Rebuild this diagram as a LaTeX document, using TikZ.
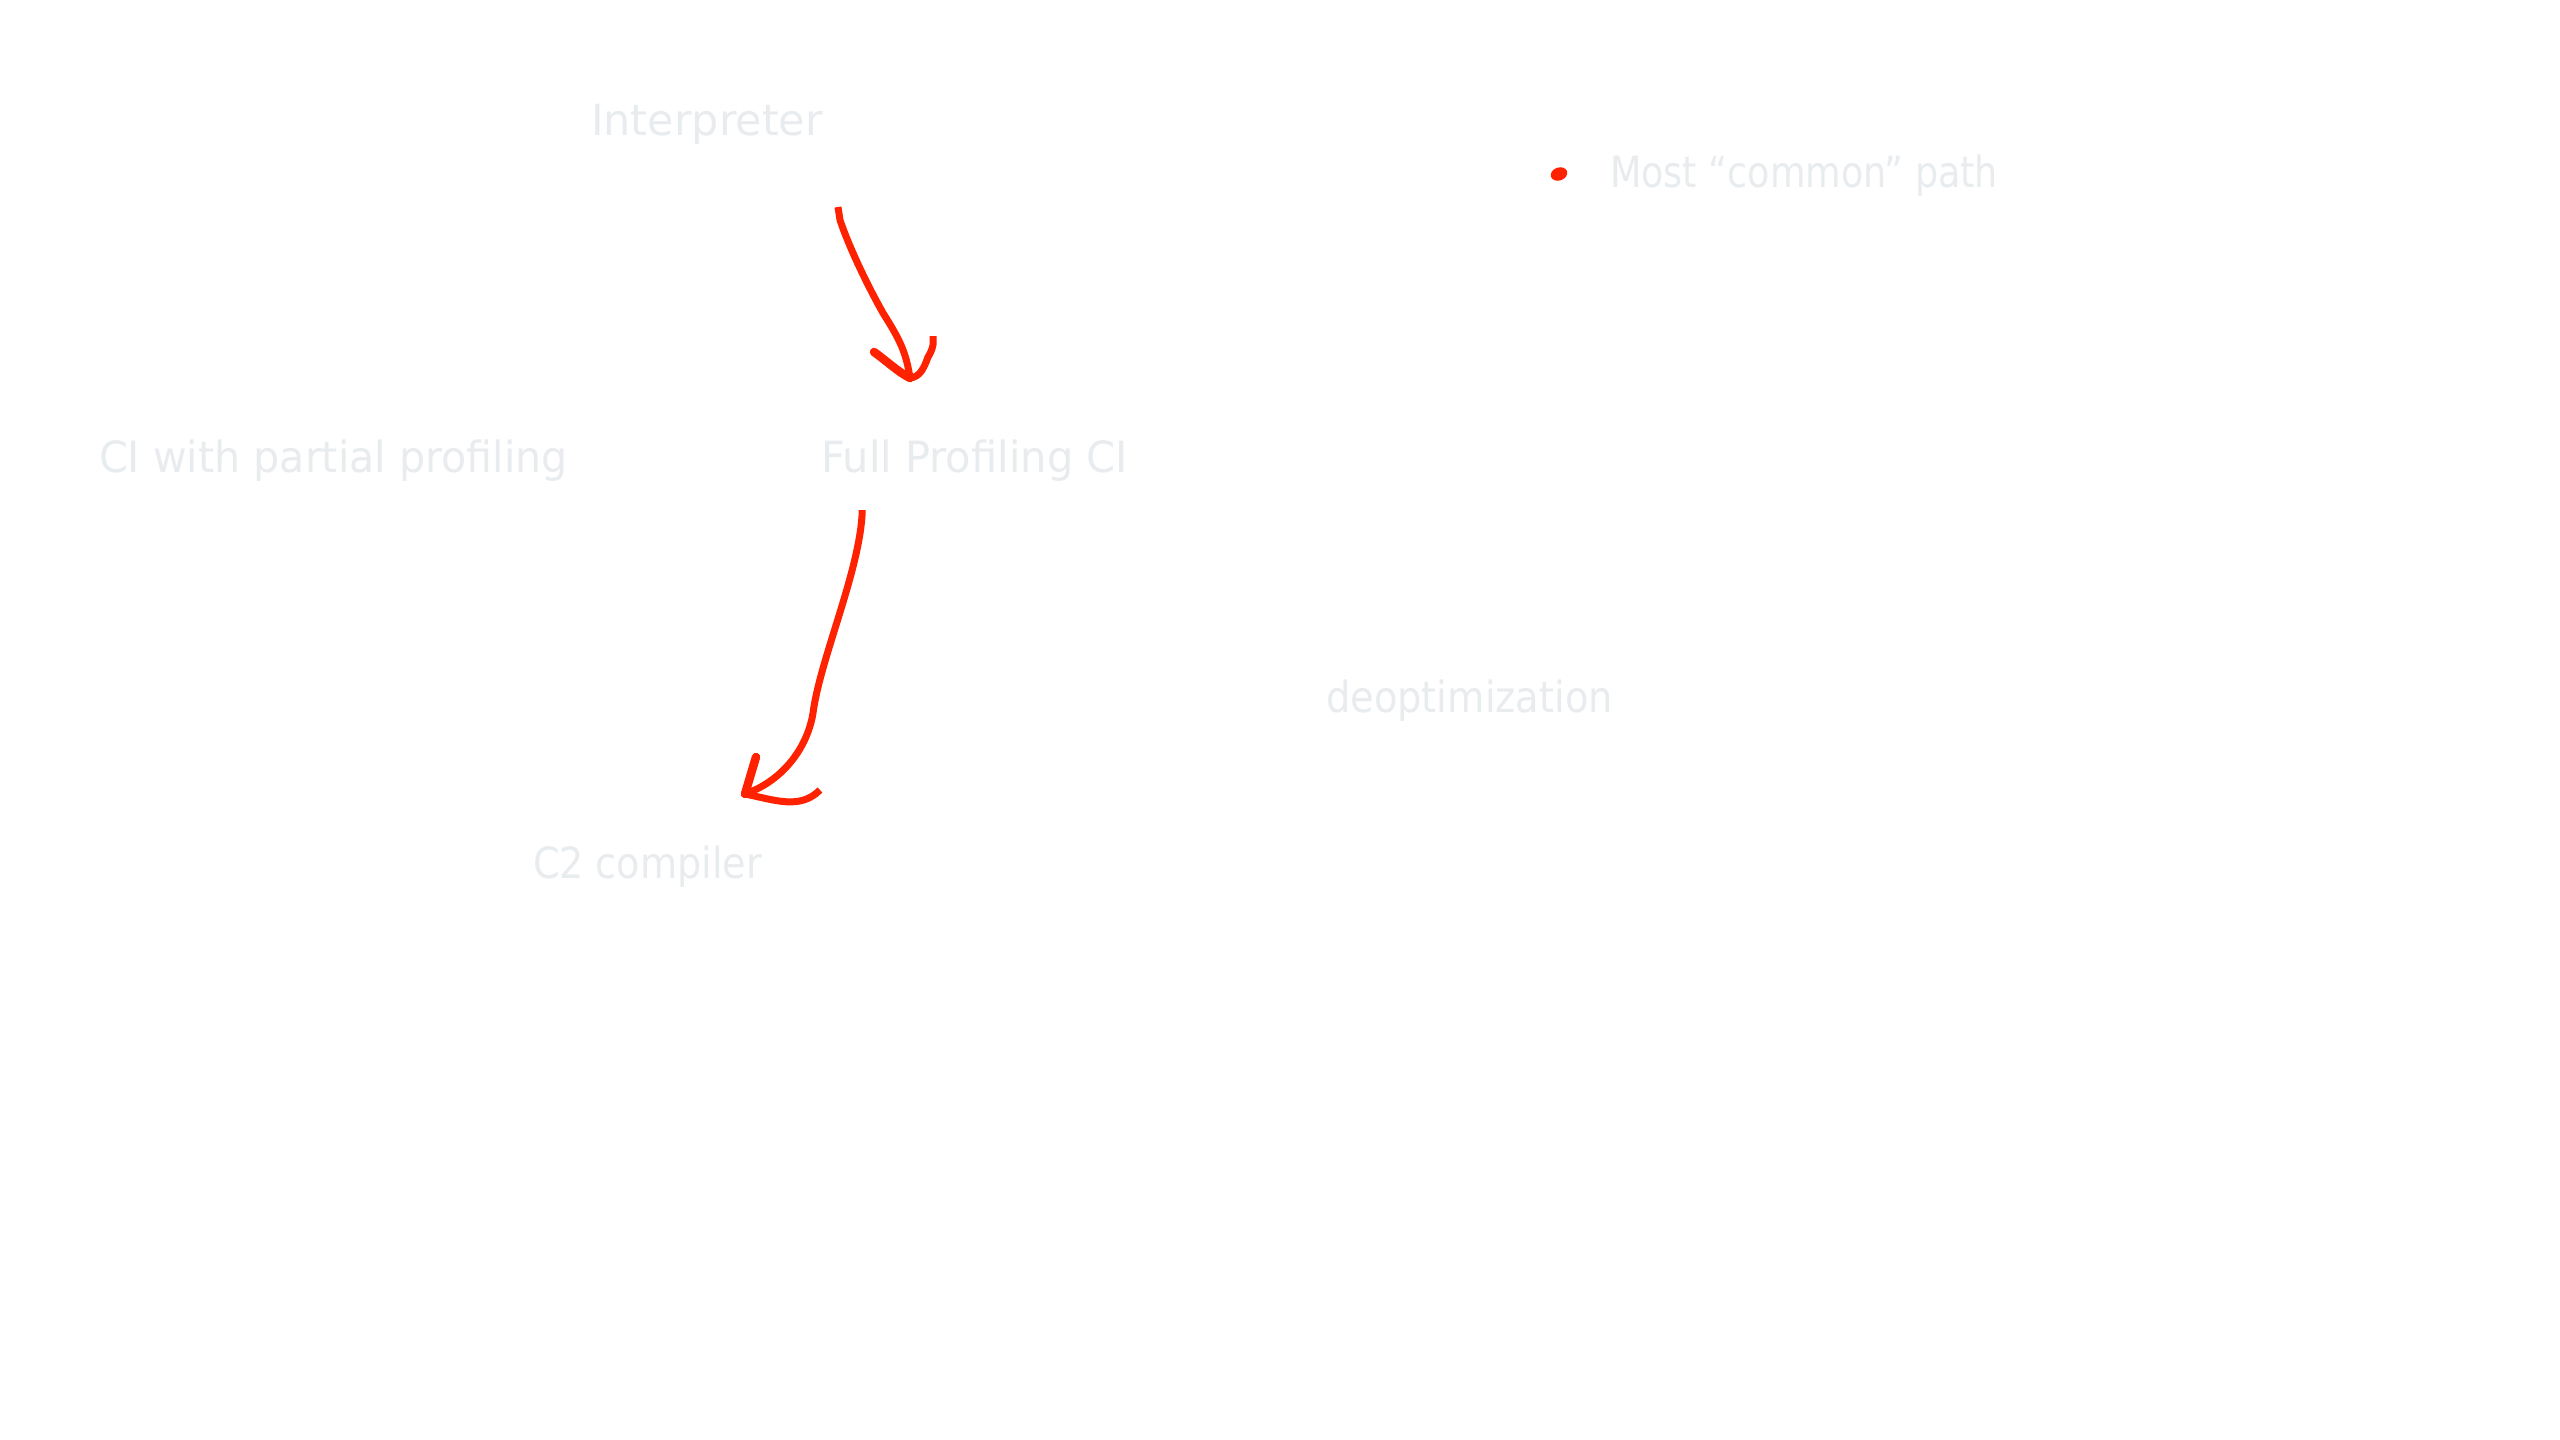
\documentclass[tikz,border=0pt]{standalone}
\usepackage{fontspec}
\usepackage{graphicx}
\usetikzlibrary{shapes.geometric}
\setmainfont{DejaVu Sans}
\definecolor{lbl}{RGB}{233,236,239}
\definecolor{hred}{RGB}{255,34,0}
\newcommand{\fitw}[2]{\resizebox{#1pt}{\height}{#2}}
\begin{document}
\begin{tikzpicture}[x=1pt,y=-1pt,
  lab/.style={anchor=base west,inner sep=0pt,outer sep=0pt,text=lbl,font=\fontsize{43}{52}\selectfont},
  stroke/.style={draw=hred,line width=7pt,line cap=round,line join=round},
  barb/.style={stroke,line width=8.5pt}]
\useasboundingbox[fill=white] (0,0) rectangle (2560,1440);
% labels
\node[lab] (interp) at (591,135) {\fitw{232}{Interpreter}};
\node[lab] (cipart) at (99,472) {\fitw{469}{CI with partial profiling}};
\node[lab] (fullci) at (821,472) {\fitw{307}{Full Profiling CI}};
\node[lab] (deopt) at (1326,712) {\fitw{287}{deoptimization}};
\node[lab] (ctwo) at (533,878) {\fitw{229}{C2 compiler}};
\node[lab] (legend) at (1610,187) {\fitw{388}{Most “common” path}};
% legend dot
\node[ellipse,fill=hred,draw=none,inner sep=0pt,minimum width=17pt,minimum height=13pt,rotate=20] (dot) at (1559,174) {};
% arrow 1: Interpreter -> Full Profiling CI
\coordinate (a1s) at (838,207);
\coordinate (a1k) at (883,313);
\coordinate (a1t) at (910,378);
\coordinate (a1l) at (874,352);
\coordinate (a1r) at (933,336);
\coordinate (a1m) at (928,357);
\draw[stroke,line cap=butt] (a1s) -- (840,220) .. controls (850,250) and (870,290) .. (a1k)
  .. controls (900,340) and (906,352) .. (a1t);
\draw[barb] (a1l) .. controls (888,362) and (898,372) .. (a1t);
\draw[stroke,line cap=butt] (a1r) -- (933,345) .. controls (932,350) and (930,354) .. (a1m)
  .. controls (924,368) and (920,377) .. (a1t);
% arrow 2: Full Profiling CI -> C2 compiler
\coordinate (a2s) at (862,510);
\coordinate (a2m) at (813,713);
\coordinate (a2t) at (745,794);
\coordinate (a2u) at (756,757);
\coordinate (a2e) at (820,790);
\draw[stroke,line cap=butt] (a2s) -- (862,516) .. controls (858,575) and (820,660) .. (a2m)
  .. controls (808,745) and (785,780) .. (a2t);
\draw[barb] (a2u) -- (a2t);
\draw[stroke,line cap=butt] (a2t) .. controls (775,800) and (800,810) .. (a2e);
\end{tikzpicture}
\end{document}
